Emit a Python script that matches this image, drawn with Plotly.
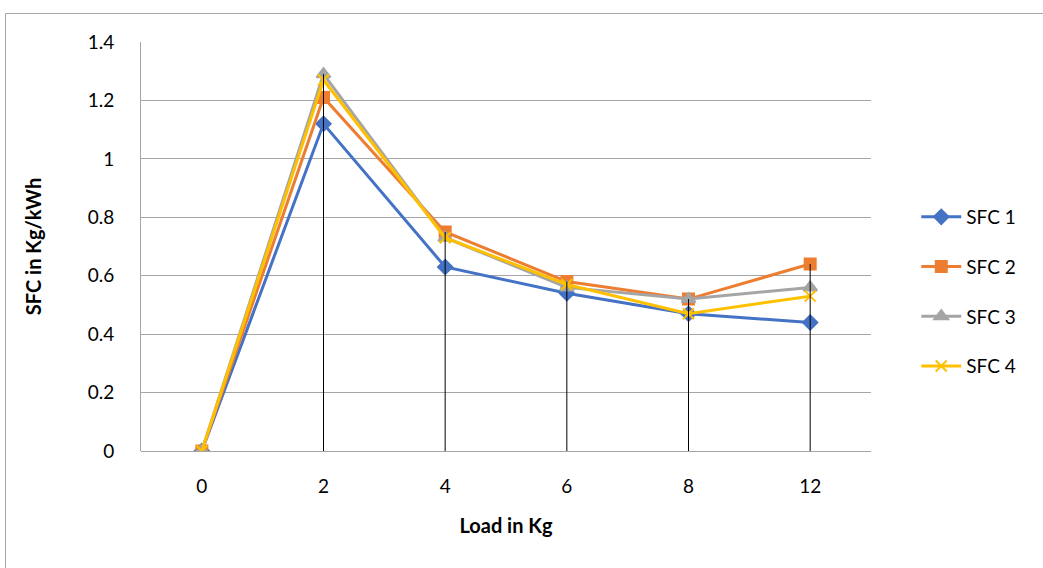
import plotly.graph_objects as go

loads = ["0", "2", "4", "6", "8", "12"]
sfc1 = [0, 1.12, 0.63, 0.54, 0.47, 0.44]
sfc2 = [0, 1.21, 0.75, 0.58, 0.52, 0.64]
sfc3 = [0, 1.29, 0.73, 0.56, 0.52, 0.56]
sfc4 = [0, 1.27, 0.73, 0.57, 0.47, 0.53]
names = ["SFC 1", "SFC 2", "SFC 3", "SFC 4"]
colors = ["#4472C4", "#ED7D31", "#A5A5A5", "#FFC000"]
symbols = ["diamond", "square", "triangle-up", "x-thin"]
sizes = [11, 11, 12, 11]

FONT = "Lato"
fig = go.Figure()
for i, ys in enumerate([sfc1, sfc2, sfc3, sfc4]):
    fig.add_trace(go.Scatter(
        x=loads, y=ys, name=names[i], mode="lines+markers",
        line=dict(color=colors[i], width=3),
        marker=dict(symbol=symbols[i], size=sizes[i], color=colors[i],
                    line=dict(color=colors[i], width=2)),
        legendgroup=names[i],
    ))

# drop lines from highest point to the axis
dx, dy = [], []
for j, c in enumerate(loads):
    m = max(sfc1[j], sfc2[j], sfc3[j], sfc4[j])
    dx += [c, c, None]
    dy += [0, m, None]
fig.add_trace(go.Scatter(x=dx, y=dy, mode="lines", line=dict(color="black", width=1),
                         showlegend=False, hoverinfo="skip"))

fig.update_layout(
    width=1043, height=568,
    margin=dict(l=141, r=172, t=42, b=117),
    paper_bgcolor="white", plot_bgcolor="white",
    font=dict(family=FONT, size=19, color="black"),
    showlegend=True,
    legend=dict(x=1.062, y=0.39, xanchor="left", yanchor="middle",
                font=dict(size=19), traceorder="grouped", tracegroupgap=22,
                itemwidth=40, bgcolor="rgba(0,0,0,0)"),
    xaxis=dict(type="category", range=[-0.5, 5.5], showgrid=False, zeroline=False,
               showline=False, ticks="", tickfont=dict(size=19), ticklabelstandoff=22,
               title=dict(text="<b>Load in Kg</b>", font=dict(size=20), standoff=22)),
    yaxis=dict(range=[0, 1.4], dtick=0.2, showgrid=True, gridcolor="#A6A6A6",
               gridwidth=1, zeroline=True, zerolinecolor="#A6A6A6", zerolinewidth=1,
               showline=True, linecolor="#A6A6A6", linewidth=1, ticks="",
               tickfont=dict(size=19), ticklabelstandoff=22,
               title=dict(text="<b>SFC in Kg/kWh</b>", font=dict(size=20), standoff=40)),
    shapes=[dict(type="rect", xref="paper", yref="paper",
                 x0=(5.5 - 141) / 730, x1=1.4, y0=-0.4, y1=(451 - 13.5) / 409,
                 line=dict(color="#A6A6A6", width=1), layer="below")],
)
fig.write_html("out.html")
